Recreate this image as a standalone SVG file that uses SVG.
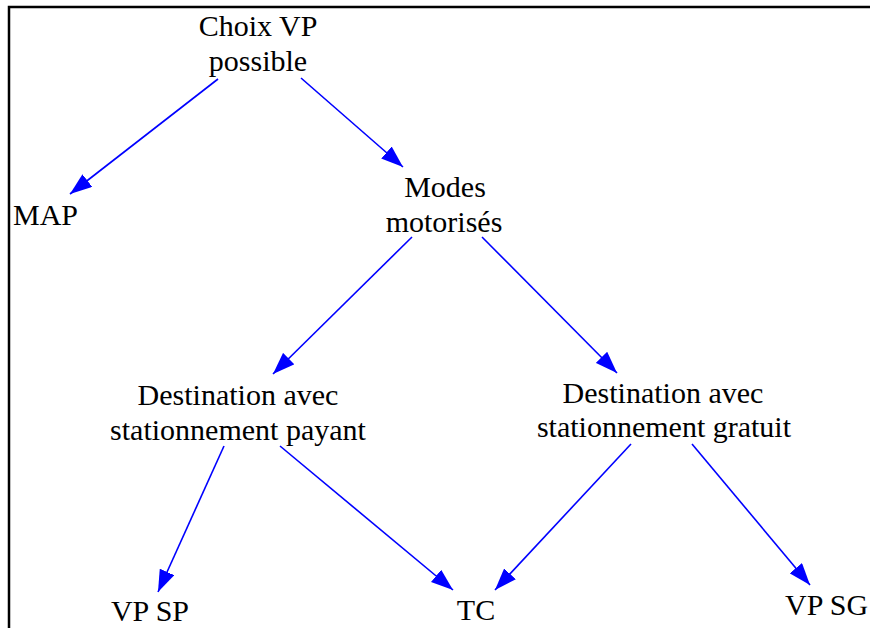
<svg xmlns="http://www.w3.org/2000/svg" width="870" height="628" viewBox="0 0 870 628">
  <style>
    .lbl { font-family: "Liberation Serif", "Times New Roman", serif; font-size: 30px; fill: #000; }
    .mid { text-anchor: middle; }
    .edge { stroke: #0000ff; stroke-width: 1.6; fill: none; marker-end: url(#head); }
    .frame { stroke: #000; stroke-width: 2.5; fill: none; }
  </style>
  <defs>
    <marker id="head" markerUnits="userSpaceOnUse" markerWidth="22" markerHeight="16" viewBox="0 0 22 16" refX="22" refY="8" orient="auto">
      <path d="M0,0 L22,8 L0,16 z" fill="#0000ff"/>
    </marker>
  </defs>
  <rect width="870" height="628" fill="#fff"/>
  <path class="frame" d="M9,628 V7 H870"/>

  <g id="connectors">
    <line class="edge" x1="218" y1="79" x2="70" y2="194"/>
    <line class="edge" x1="301" y1="78" x2="403" y2="167"/>
    <line class="edge" x1="412" y1="237" x2="273" y2="374"/>
    <line class="edge" x1="482" y1="237" x2="617" y2="373"/>
    <line class="edge" x1="224" y1="446" x2="158" y2="592"/>
    <line class="edge" x1="280" y1="446" x2="453" y2="590"/>
    <line class="edge" x1="631" y1="444" x2="495" y2="590"/>
    <line class="edge" x1="692" y1="444" x2="810" y2="585"/>
  </g>

  <g id="choix-vp">
    <text class="lbl mid" x="258" y="36">Choix VP</text>
    <text class="lbl mid" x="258" y="71">possible</text>
  </g>
  <g id="map">
    <text class="lbl" x="13" y="225">MAP</text>
  </g>
  <g id="modes-motorises">
    <text class="lbl mid" x="445" y="197">Modes</text>
    <text class="lbl mid" x="444" y="232">motorisés</text>
  </g>
  <g id="dest-payant">
    <text class="lbl mid" x="238" y="405">Destination avec</text>
    <text class="lbl mid" x="238" y="440">stationnement payant</text>
  </g>
  <g id="dest-gratuit">
    <text class="lbl mid" x="663" y="403">Destination avec</text>
    <text class="lbl mid" x="664" y="437">stationnement gratuit</text>
  </g>
  <g id="vp-sp">
    <text class="lbl mid" x="150" y="621">VP SP</text>
  </g>
  <g id="tc">
    <text class="lbl mid" x="476" y="620">TC</text>
  </g>
  <g id="vp-sg">
    <text class="lbl" x="785" y="615">VP SG</text>
  </g>
</svg>
